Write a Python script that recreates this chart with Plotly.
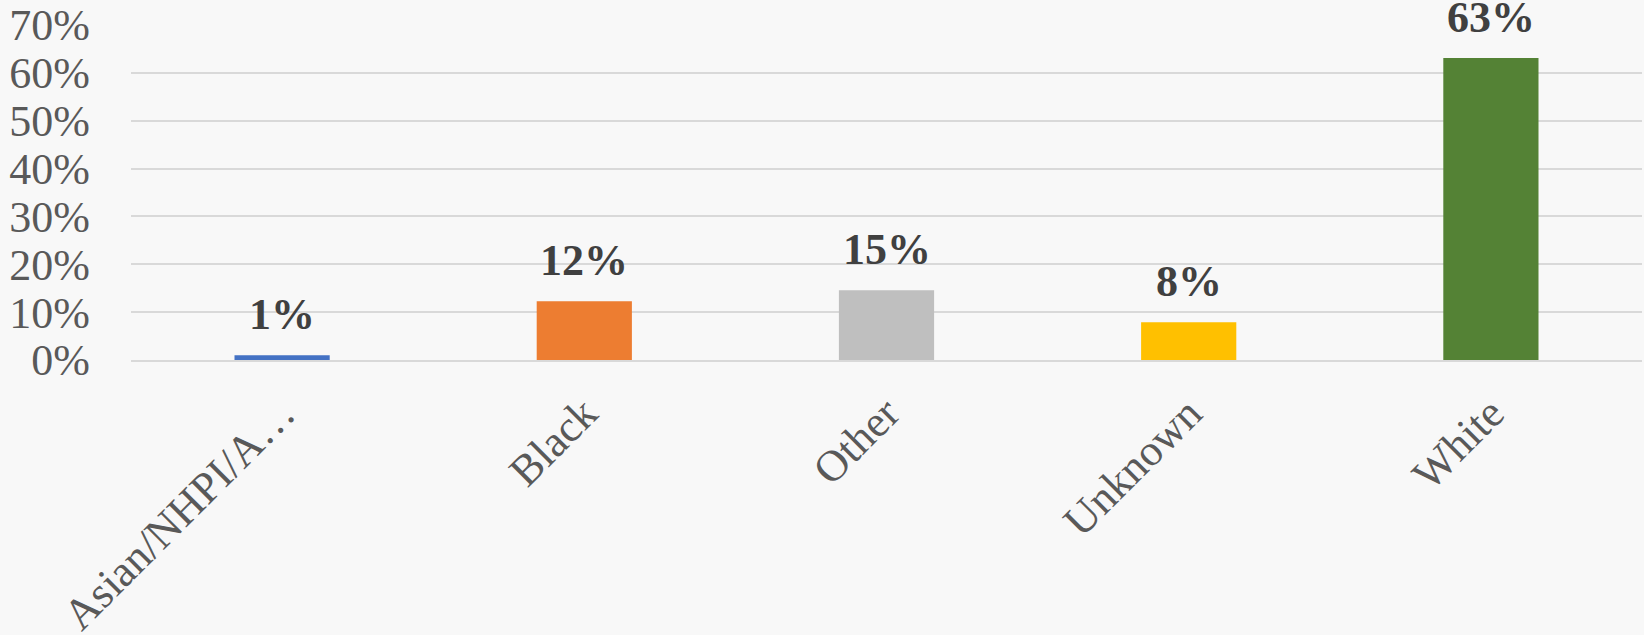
import plotly.graph_objects as go

categories = ["Asian/NHPI/A…", "Black", "Other", "Unknown", "White"]
shares = [0.010, 0.123, 0.146, 0.079, 0.631]
labels = ["1%", "12%", "15%", "8%", "63%"]
colours = ["#4472C4", "#ED7D31", "#BFBFBF", "#FFC000", "#548235"]

fig = go.Figure()
fig.add_trace(go.Bar(
    x=categories, y=shares,
    marker=dict(color=colours, line=dict(width=0)),
    hoverinfo="skip",
))

# data labels above the bars
for c, v, t in zip(categories, shares, labels):
    fig.add_annotation(
        x=c, y=v, text=f"<b>{t}</b>",
        showarrow=False, yanchor="bottom", yshift=14,
        font=dict(family="Liberation Serif", size=44, color="#404040"),
    )

fig.update_layout(
    width=1644, height=635,
    margin=dict(l=131, r=2, t=25, b=275),
    paper_bgcolor="#F8F8F8", plot_bgcolor="#F8F8F8",
    bargap=0.685,
    showlegend=False,
    font=dict(family="Liberation Serif", color="#595959"),
)
fig.update_yaxes(
    range=[0, 0.7], dtick=0.1, tickformat=".0%",
    gridcolor="#D9D9D9", gridwidth=1.5, zeroline=False,
    tickfont=dict(size=44, color="#595959"),
    ticklabelstandoff=40, automargin=False,
)
fig.update_xaxes(
    tickangle=-45, showline=True, linecolor="#D9D9D9", linewidth=1.5,
    tickfont=dict(size=44, color="#595959"),
    ticklabelstandoff=8, automargin=False,
)

# drop the browser's default body margin so the figure fills the window
fig.write_html(
    "out.html",
    config={"displayModeBar": False},
    post_script="document.body.style.margin='0';document.body.style.background='#F8F8F8';",
)
